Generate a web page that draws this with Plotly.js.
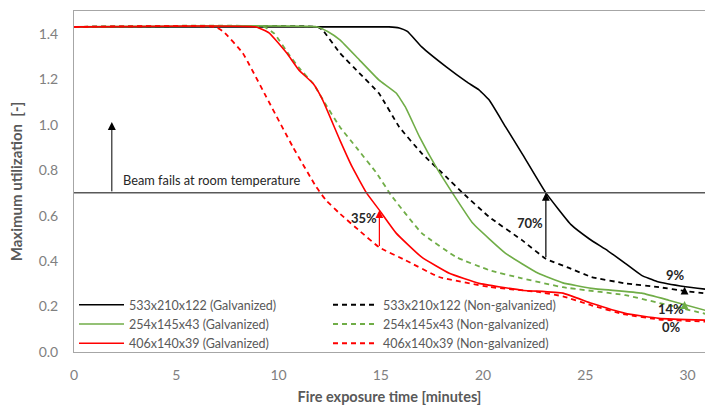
<!DOCTYPE html>
<html>
<head>
<meta charset="utf-8">
<script src="https://cdn.plot.ly/plotly-3.0.1.min.js"></script>
<style>html,body{margin:0;padding:0;background:#fff;}#chart{width:705px;height:405px;}</style>
</head>
<body>
<div id="chart"></div>
<script>
// ---- data ----
const tBlackGalv = [0, 15.4, 15.9, 16.3, 17.0, 18.2, 19.2, 19.8, 20.3, 21.1, 21.9, 23.07, 24.3, 25.2, 26.1, 26.95, 27.75, 28.5, 29.9, 31];
const uBlackGalv = [1.43, 1.43, 1.425, 1.41, 1.342, 1.254, 1.188, 1.153, 1.108, 0.99, 0.874, 0.70, 0.56, 0.497, 0.445, 0.39, 0.337, 0.31, 0.287, 0.275];

const tBlackNon = [0, 11.9, 12.15, 13.0, 13.95, 14.9, 15.9, 17.0, 18.2, 19.0, 20.3, 21.9, 23.07, 24.2, 25.3, 26.95, 28.6, 29.9, 31];
const uBlackNon = [1.43, 1.43, 1.417, 1.315, 1.227, 1.139, 0.99, 0.874, 0.77, 0.70, 0.594, 0.492, 0.41, 0.37, 0.33, 0.302, 0.285, 0.268, 0.256];

const tGreenGalv = [0, 11.9, 12.4, 13.0, 13.95, 14.9, 15.75, 16.2, 16.9, 17.7, 18.5, 19.5, 21.1, 22.7, 23.9, 25.3, 27.75, 29.07, 31];
const uGreenGalv = [1.43, 1.43, 1.41, 1.373, 1.285, 1.197, 1.139, 1.078, 0.945, 0.814, 0.70, 0.566, 0.434, 0.346, 0.304, 0.28, 0.259, 0.228, 0.18];

const tGreenNon = [0, 9.3, 9.8, 10.5, 11.0, 11.7, 12.3, 13.0, 13.8, 14.8, 15.5, 17.0, 18.7, 20.3, 21.9, 23.9, 26.95, 29.07, 31];
const uGreenNon = [1.43, 1.43, 1.40, 1.31, 1.25, 1.18, 1.09, 0.99, 0.90, 0.786, 0.69, 0.523, 0.417, 0.36, 0.324, 0.285, 0.25, 0.206, 0.165];

const tRedGalv = [0, 8.9, 9.55, 10.4, 11.0, 11.7, 12.15, 13.0, 13.6, 14.3, 14.93, 15.75, 17.0, 18.35, 19.8, 21.9, 23.9, 25.3, 26.95, 28.6, 31];
const uRedGalv = [1.43, 1.43, 1.403, 1.315, 1.24, 1.18, 1.11, 0.932, 0.814, 0.70, 0.624, 0.523, 0.417, 0.346, 0.302, 0.272, 0.259, 0.214, 0.17, 0.148, 0.14];

const tRedNon = [0, 6.9, 7.3, 8.25, 9.4, 10.7, 11.85, 12.3, 12.98, 14.0, 14.93, 16.2, 17.85, 20.3, 22.7, 23.9, 25.3, 26.95, 28.6, 31];
const uRedNon = [1.43, 1.43, 1.41, 1.315, 1.122, 0.902, 0.725, 0.67, 0.61, 0.53, 0.46, 0.404, 0.33, 0.286, 0.264, 0.245, 0.205, 0.165, 0.143, 0.133];

const seriesNames = [
  "533x210x122 (Galvanized)", "533x210x122 (Non-galvanized)",
  "254x145x43 (Galvanized)", "254x145x43 (Non-galvanized)",
  "406x140x39 (Galvanized)", "406x140x39 (Non-galvanized)"
];

const failLevel = 0.7;
const xTicks = [0, 5, 10, 15, 20, 25, 30];
const yTicks = [0, 0.2, 0.4, 0.6, 0.8, 1.0, 1.2, 1.4];

// labelled increase arrows: [x, from, to, label, labelX, labelY]
const gainArrows = [
  [14.93, 0.46, 0.624, "35%", 14.2, 0.588],
  [23.07, 0.41, 0.70, "70%", 22.3, 0.566],
  [29.85, 0.268, 0.287, "9%", 29.4, 0.337],
  [29.85, 0.206, 0.224, "14%", 29.2, 0.19],
  [29.85, 0.138, 0.141, "0%", 29.2, 0.112]
];
const arrowColors = ["#ff0000", "#000000", "#000000", "#70ad47", "#ff0000"];

// ---- styles ----
const black = "#000000", green = "#70ad47", red = "#ff0000";
const FONT = "Lato, 'Open Sans', sans-serif";
const dashPat = "5px,4px";

function tr(x, y, name, color, dashed) {
  return {
    x: x, y: y, name: name, type: "scatter", mode: "lines",
    line: {color: color, width: dashed ? 1.8 : 1.6, dash: dashed ? dashPat : "solid", shape: "spline", smoothing: 0.35},
    hoverinfo: "skip"
  };
}

const data = [
  tr(tBlackGalv, uBlackGalv, seriesNames[0], black, false),
  tr(tBlackNon, uBlackNon, seriesNames[1], black, true),
  tr(tGreenGalv, uGreenGalv, seriesNames[2], green, false),
  tr(tGreenNon, uGreenNon, seriesNames[3], green, true),
  tr(tRedGalv, uRedGalv, seriesNames[4], red, false),
  tr(tRedNon, uRedNon, seriesNames[5], red, true)
];

const annotations = [];
// beam fails arrow + text
annotations.push({x: 1.85, y: 1.012, ax: 1.85, ay: failLevel, xref: "x", yref: "y", axref: "x", ayref: "y",
  showarrow: true, arrowhead: 2, arrowsize: 1.6, arrowwidth: 1, arrowcolor: "#000", standoff: 0, text: ""});
annotations.push({x: 2.3, y: 0.755, xref: "x", yref: "y", text: "Beam fails at room temperature",
  showarrow: false, xanchor: "left", yanchor: "middle", font: {family: FONT, size: 12.8, color: "#262626"}});
gainArrows.forEach(function (g, i) {
  annotations.push({x: g[0], y: g[2], ax: g[0], ay: g[1], xref: "x", yref: "y", axref: "x", ayref: "y",
    showarrow: true, arrowhead: 2, arrowsize: 1.3, arrowwidth: 1.2, arrowcolor: arrowColors[i], standoff: 0, text: ""});
  annotations.push({x: g[4], y: g[5], xref: "x", yref: "y", text: "<b>" + g[3] + "</b>", showarrow: false,
    xanchor: "center", yanchor: "middle", font: {family: FONT, size: 13, color: "#262626"}});
});

const layout = {
  width: 705, height: 405,
  margin: {l: 74, r: 0, t: 11, b: 53},
  paper_bgcolor: "#ffffff", plot_bgcolor: "#ffffff",
  font: {family: FONT, color: "#808080"},
  showlegend: true,
  legend: {
    orientation: "h", x: 0.0, y: -0.018, xanchor: "left", yanchor: "bottom",
    entrywidth: 194, entrywidthmode: "pixels", itemwidth: 45,
    font: {family: FONT, size: 12.5, color: "#595959"},
    bgcolor: "rgba(255,255,255,0)", traceorder: "normal", tracegroupgap: 0
  },
  xaxis: {
    range: [0, 30.85], tickvals: xTicks, ticktext: xTicks.map(String),
    showgrid: false, zeroline: false, showline: true, mirror: true, linecolor: "#a6a6a6", linewidth: 1,
    ticks: "", ticklabelstandoff: 10,
    tickfont: {family: FONT, size: 14, color: "#808080"},
    title: {text: "<b>Fire exposure time [minutes]</b>", font: {family: FONT, size: 14.5, color: "#595959"}, standoff: 12},
    automargin: false
  },
  yaxis: {
    range: [0, 1.5], tickvals: yTicks, tickformat: ".1f",
    showgrid: false, zeroline: false, showline: true, linecolor: "#a6a6a6", linewidth: 1,
    ticks: "", ticklabelstandoff: 12,
    tickfont: {family: FONT, size: 14, color: "#808080"},
    title: {text: "<b>Maximum utilization  [-]</b>", font: {family: FONT, size: 15, color: "#595959"}, standoff: 12},
    automargin: false
  },
  shapes: [{type: "line", xref: "paper", x0: 0, x1: 1, yref: "y", y0: failLevel, y1: failLevel,
    line: {color: "#595959", width: 1.5}}],
  annotations: annotations
};

Plotly.newPlot("chart", data, layout, {displayModeBar: false, staticPlot: true});
</script>
</body>
</html>
